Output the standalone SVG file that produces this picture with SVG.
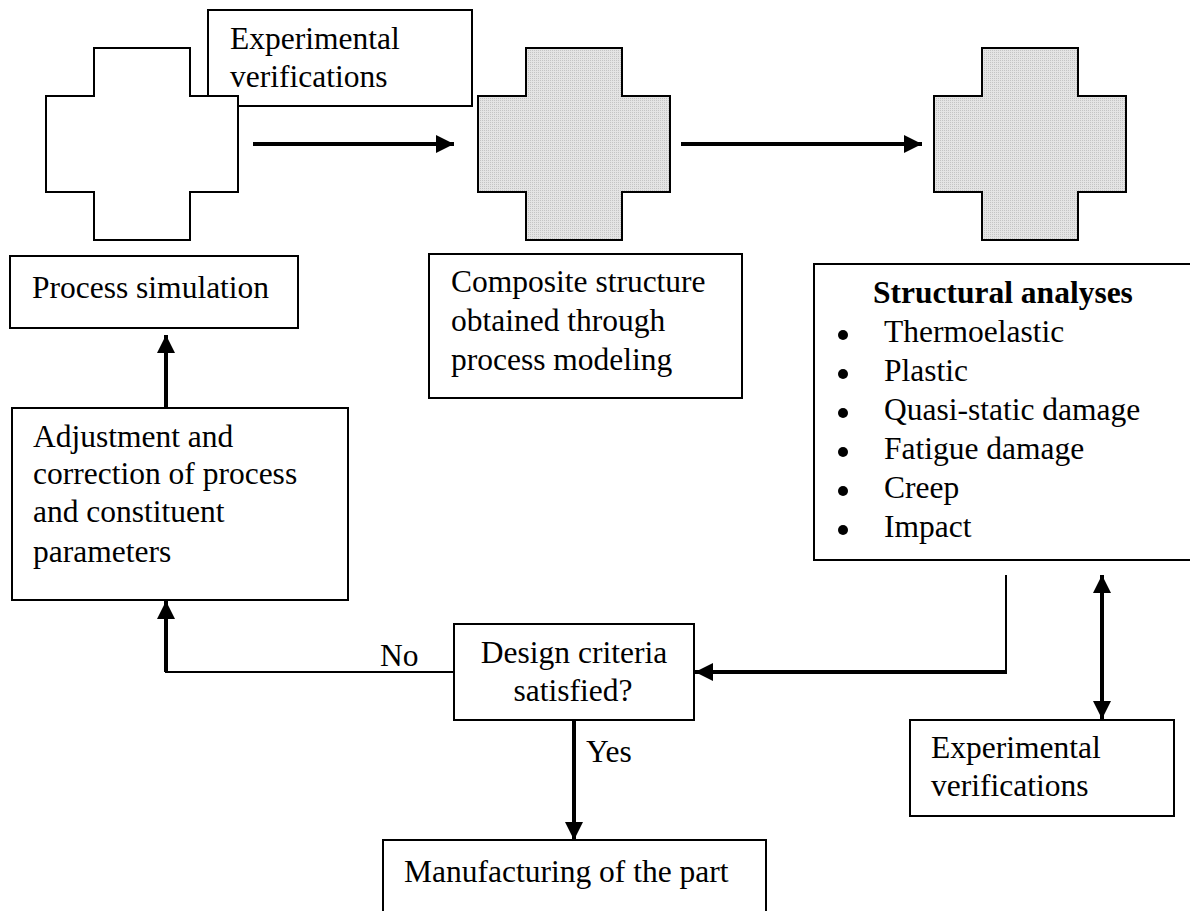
<svg xmlns="http://www.w3.org/2000/svg" width="1190" height="911" viewBox="0 0 1190 911">
<style>
  .box{fill:#fff;stroke:#000;stroke-width:2}
  .cross{stroke:#000;stroke-width:2}
  .t{font-family:"Liberation Serif","Times New Roman",serif;font-size:31.5px;fill:#000}
  .b{font-weight:bold}
  .thick{fill:none;stroke:#000;stroke-width:4}
  .thin{fill:none;stroke:#000;stroke-width:2}
  .dot{fill:#000}
</style>
<defs>
  <pattern id="stip" width="2" height="2" patternUnits="userSpaceOnUse">
    <rect width="2" height="2" fill="#e4e4e4"/>
    <rect width="1" height="1" fill="#c4c4c4"/>
  </pattern>
  <marker id="ah" markerUnits="userSpaceOnUse" markerWidth="18" markerHeight="18" refX="18" refY="9" orient="auto-start-reverse" viewBox="0 0 18 18">
    <path d="M0,0 L18,9 L0,18 z" fill="#000"/>
  </marker>
</defs>

<g id="exp-top">
  <rect class="box" x="208" y="10" width="264" height="96"/>
  <text class="t" x="230" y="49">Experimental</text>
  <text class="t" x="230" y="87">verifications</text>
</g>

<g id="cross-1">
  <path class="cross" fill="#fff" d="M94,48 H190 V96 H238 V192 H190 V240 H94 V192 H46 V96 H94 Z"/>
</g>
<g id="cross-2">
  <path class="cross" fill="url(#stip)" d="M526,48 H622 V96 H670 V192 H622 V240 H526 V192 H478 V96 H526 Z"/>
</g>
<g id="cross-3">
  <path class="cross" fill="url(#stip)" d="M982,48 H1078 V96 H1126 V192 H1078 V240 H982 V192 H934 V96 H982 Z"/>
</g>

<g id="process-simulation">
  <rect class="box" x="10" y="256" width="288" height="72"/>
  <text class="t" x="32" y="298">Process simulation</text>
</g>

<g id="composite">
  <rect class="box" x="429" y="254" width="313" height="144"/>
  <text class="t" x="451" y="292">Composite structure</text>
  <text class="t" x="451" y="331">obtained through</text>
  <text class="t" x="451" y="370">process modeling</text>
</g>

<g id="structural">
  <rect class="box" x="814" y="264" width="390" height="296"/>
  <text class="t b" x="873" y="303">Structural analyses</text>
  <circle class="dot" cx="843" cy="335" r="5"/>
  <text class="t" x="884" y="342">Thermoelastic</text>
  <circle class="dot" cx="843" cy="374" r="5"/>
  <text class="t" x="884" y="381">Plastic</text>
  <circle class="dot" cx="843" cy="413" r="5"/>
  <text class="t" x="884" y="420">Quasi-static damage</text>
  <circle class="dot" cx="843" cy="452" r="5"/>
  <text class="t" x="884" y="459">Fatigue damage</text>
  <circle class="dot" cx="843" cy="491" r="5"/>
  <text class="t" x="884" y="498">Creep</text>
  <circle class="dot" cx="843" cy="530" r="5"/>
  <text class="t" x="884" y="537">Impact</text>
</g>

<g id="adjustment">
  <rect class="box" x="12" y="408" width="336" height="192"/>
  <text class="t" x="33" y="447">Adjustment and</text>
  <text class="t" x="33" y="484">correction of process</text>
  <text class="t" x="33" y="522">and constituent</text>
  <text class="t" x="33" y="562">parameters</text>
</g>

<g id="design">
  <rect class="box" x="454" y="624" width="240" height="96"/>
  <text class="t" x="574" y="663" text-anchor="middle">Design criteria</text>
  <text class="t" x="573" y="701" text-anchor="middle">satisfied?</text>
</g>

<g id="exp-bottom">
  <rect class="box" x="910" y="720" width="264" height="96"/>
  <text class="t" x="931" y="758">Experimental</text>
  <text class="t" x="931" y="796">verifications</text>
</g>

<g id="manufacturing">
  <rect class="box" x="383" y="840" width="383" height="90"/>
  <text class="t" x="404" y="882">Manufacturing of the part</text>
</g>

<g id="connectors">
  <line class="thick" x1="253" y1="144" x2="454" y2="144" marker-end="url(#ah)"/>
  <line class="thick" x1="681" y1="144" x2="922" y2="144" marker-end="url(#ah)"/>
  <line class="thick" x1="166" y1="409" x2="166" y2="335" marker-end="url(#ah)"/>
  <polyline class="thin" points="454,672 166,672 166,640"/>
  <line class="thick" x1="166" y1="672" x2="166" y2="601" marker-end="url(#ah)"/>
  <line class="thin" x1="1006" y1="575" x2="1006" y2="672"/>
  <line class="thick" x1="1007" y1="672" x2="695" y2="672" marker-end="url(#ah)"/>
  <line class="thick" x1="1102" y1="575" x2="1102" y2="719" marker-start="url(#ah)" marker-end="url(#ah)"/>
  <line class="thick" x1="574" y1="720" x2="574" y2="840" marker-end="url(#ah)"/>
  <text class="t" x="380" y="666">No</text>
  <text class="t" x="586" y="762">Yes</text>
</g>
</svg>
